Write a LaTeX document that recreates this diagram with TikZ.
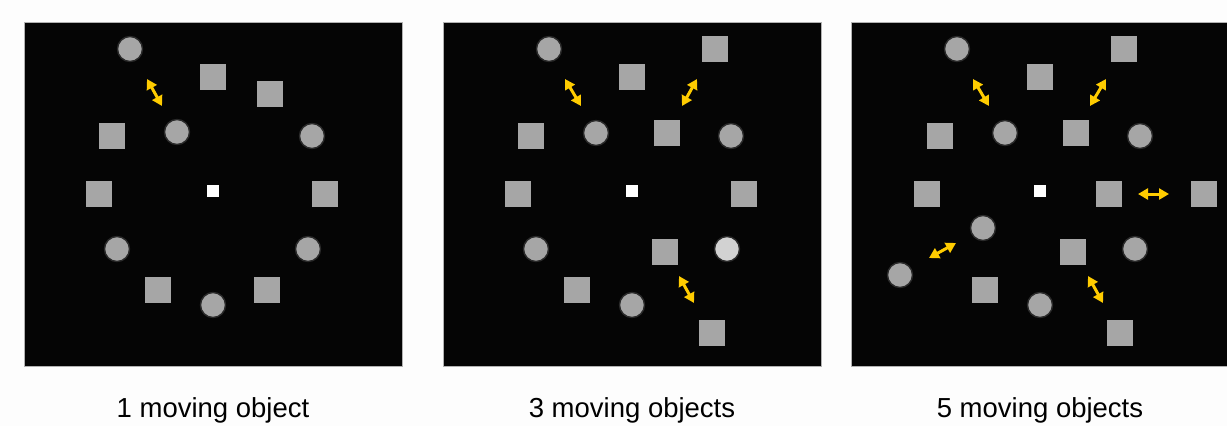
\documentclass[tikz,border=0pt]{standalone}
\usepackage{fontspec}
\setmainfont{Liberation Sans}
\usetikzlibrary{arrows.meta}
\definecolor{screenblack}{HTML}{050505}
\definecolor{stimgray}{HTML}{A6A6A6}
\definecolor{lightgray}{HTML}{D2D2D2}
\definecolor{ringgray}{HTML}{2A2A2A}
\definecolor{moveyellow}{HTML}{FFCC00}
\definecolor{paper}{HTML}{FDFDFD}

\begin{document}
\begin{tikzpicture}[x=1pt, y=-1pt,
  screen/.style = {fill=screenblack, draw=gray!60, line width=0.8pt},
  disc/.style = {circle, fill=stimgray, draw=ringgray, line width=1.4pt, minimum size=25pt, inner sep=0pt},
  tile/.style = {rectangle, fill=stimgray, minimum size=26pt, inner sep=0pt},
  fixdot/.style = {rectangle, fill=white, minimum size=12pt, inner sep=0pt},
  move/.style = {draw=moveyellow, line width=3pt, {Triangle[length=10pt,width=11pt]}-{Triangle[length=10pt,width=11pt]}},
  caption/.style = {anchor=base, font=\fontsize{27.5}{32}\selectfont}]
\fill[paper] (0,0) rectangle (1227,426);
\useasboundingbox (0,0) rectangle (1227,426);

% panel 1
\begin{scope}[shift={(24,22)}]
\draw[screen] (0,0) rectangle (378,344);
\foreach \x/\y [count=\i] in {106/27, 153/110, 288/114, 93/227, 284/227, 189/283}
  \node[disc] (p1d\i) at (\x,\y) {};
\foreach \x/\y [count=\i] in {189/55, 246/72, 88/114, 75/172, 301/172, 134/268, 243/268}
  \node[tile] (p1t\i) at (\x,\y) {};
\node[fixdot] (p1fix) at (189,169) {};
\coordinate (p1m1a) at (123,57);
\coordinate (p1m1b) at (138,84);
\draw[move] (p1m1a) -- (p1m1b);
\node[caption] (p1cap) at (189,395) {1 moving object};
\end{scope}

% panel 2
\begin{scope}[shift={(443,22)}]
\draw[screen] (0,0) rectangle (378,344);
\foreach \x/\y [count=\i] in {106/27, 153/111, 288/114, 93/227, 189/283}
  \node[disc] (p2d\i) at (\x,\y) {};
\node[disc, fill=lightgray] (p2d6) at (284,227) {};
\foreach \x/\y [count=\i] in {189/55, 272/27, 224/111, 88/114, 75/172, 301/172, 222/230, 134/268, 269/311}
  \node[tile] (p2t\i) at (\x,\y) {};
\node[fixdot] (p2fix) at (189,169) {};
\foreach \xa/\ya/\xb/\yb [count=\i] in {122/57/138/84, 254/57/239/84, 236/254/251/281}{
  \coordinate (p2m\i a) at (\xa,\ya);
  \coordinate (p2m\i b) at (\xb,\yb);
  \draw[move] (p2m\i a) -- (p2m\i b);
}
\node[caption] (p2cap) at (189,395) {3 moving objects};
\end{scope}

% panel 3
\begin{scope}[shift={(851,22)}]
\draw[screen] (0,0) rectangle (378,344);
\foreach \x/\y [count=\i] in {106/27, 154/111, 289/114, 132/206, 284/227, 49/253, 189/283}
  \node[disc] (p3d\i) at (\x,\y) {};
\foreach \x/\y [count=\i] in {189/55, 273/27, 225/111, 89/114, 76/172, 258/172, 353/172, 222/230, 134/268, 269/311}
  \node[tile] (p3t\i) at (\x,\y) {};
\node[fixdot] (p3fix) at (189,169) {};
\foreach \xa/\ya/\xb/\yb [count=\i] in {122/57/138/84, 255/57/239/84, 287/172/318/172, 105/221/78/236, 237/254/252/281}{
  \coordinate (p3m\i a) at (\xa,\ya);
  \coordinate (p3m\i b) at (\xb,\yb);
  \draw[move] (p3m\i a) -- (p3m\i b);
}
\node[caption] (p3cap) at (189,395) {5 moving objects};
\end{scope}
\end{tikzpicture}
\end{document}
